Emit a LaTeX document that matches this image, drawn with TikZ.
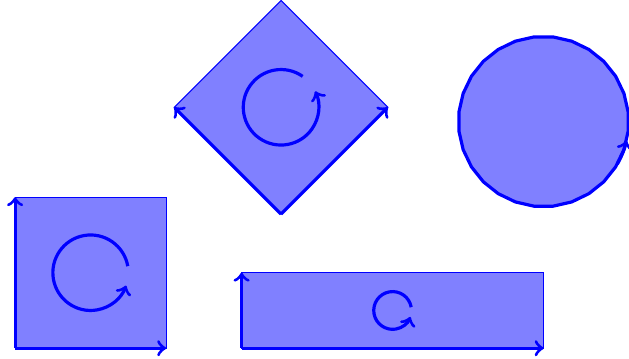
\documentclass[tikz,border=0pt]{standalone}
\usepackage{tikz}

\begin{document}
\begin{tikzpicture}[
    area/.style={fill=blue!50, draw=blue, thin},
    axis/.style={->, very thick, blue},
    spin/.style={->, very thick, blue}
]
\useasboundingbox (0,0) rectangle (8.331,4.742);

% unit square
\coordinate (s0) at (0.2,0.13);
\draw [area] (s0) rectangle ++(2,2);
\draw [axis] (s0) -- ++(2,0);
\draw [axis] (s0) -- ++(0,2);
\draw [spin] (1.2,1.13) ++(10:0.5) arc (10:340:0.5);

% rotated square
\coordinate (d0) at (3.722,1.907);
\draw [area] (d0) -- ++(45:2) -- ++(135:2) -- ++(225:2) -- cycle;
\draw [axis] (d0) -- ++(45:2);
\draw [axis] (d0) -- ++(135:2);
\draw [spin] (3.722,3.321) ++(55:0.5) arc (55:385:0.5);

% stretched rectangle
\coordinate (r0) at (3.2,0.13);
\draw [area] (r0) rectangle ++(4,1);
\draw [axis] (r0) -- ++(4,0);
\draw [axis] (r0) -- ++(0,1);
\draw [spin] (5.2,0.63) ++(10:0.25) arc (10:340:0.25);

% disc of the same area
\draw [area, very thick] plot [samples=29, domain=6.43:366.43]
    ({7.199+1.128*cos(\x)},{3.132+1.128*sin(\x)}) -- cycle;
\draw [spin] (7.199,3.132) ++(-30:1.128) arc (-30:-13:1.128);

\end{tikzpicture}
\end{document}
